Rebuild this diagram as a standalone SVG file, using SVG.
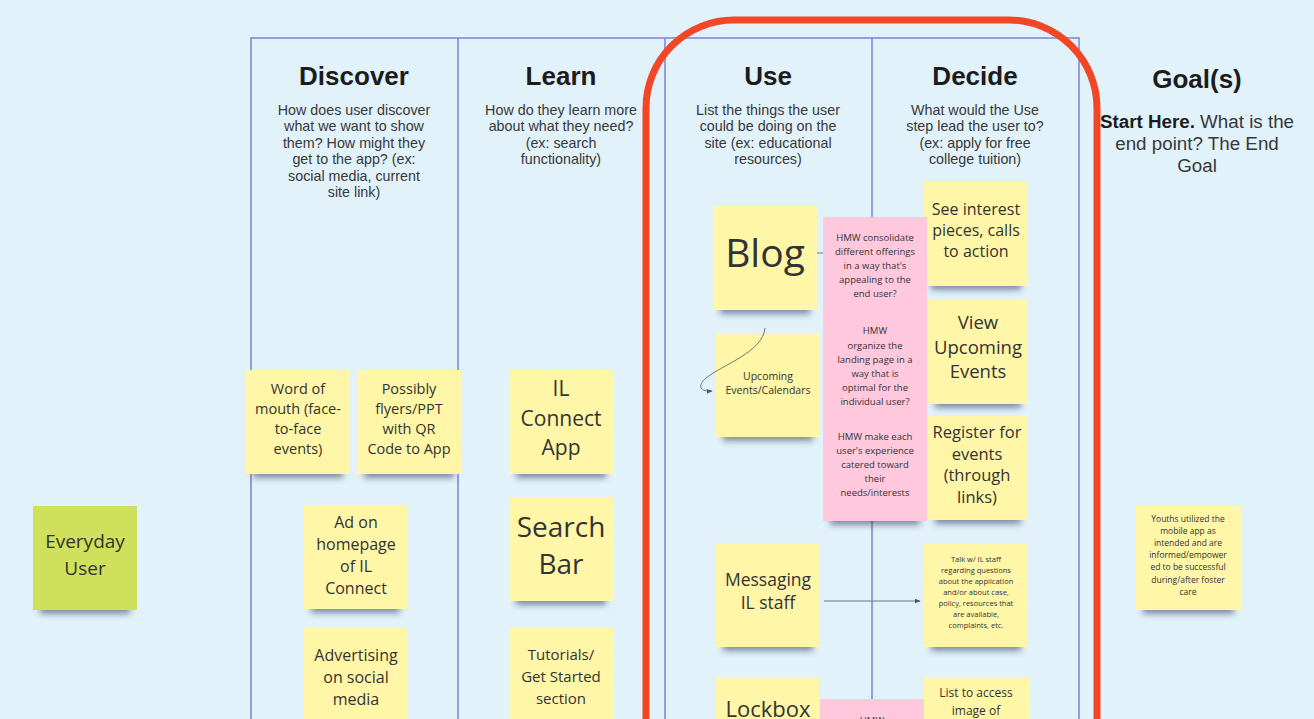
<svg xmlns="http://www.w3.org/2000/svg" width="1314" height="719" viewBox="0 0 1314 719">
<defs>
<style>
.bg{fill:#e1f2fb}
.frame{fill:none;stroke:#7b82d2;stroke-width:1.5}
.hd{font-family:"Liberation Sans",Arial,sans-serif;font-weight:bold;font-size:26px;fill:#1c1c1c;text-anchor:middle}
.sub{font-family:"Liberation Sans",Arial,sans-serif;font-size:14.3px;fill:#383838;text-anchor:middle}
.gsub{font-family:"Liberation Sans",Arial,sans-serif;font-size:18.8px;fill:#383838;text-anchor:middle}
.y{fill:#fff6a8}
.p{fill:#ffc8dc}
.g{fill:#cee05c}
.sh{fill:#2c3a55;opacity:0.55;filter:url(#blur)}
.t{font-family:"Open Sans","Noto Sans",sans-serif;fill:#333;text-anchor:middle}
.red{fill:none;stroke:#f24726;stroke-width:7}
.con{fill:none;stroke:#6f7680;stroke-width:1}
</style>
<filter id="blur" x="-20%" y="-100%" width="140%" height="300%"><feGaussianBlur stdDeviation="3"/></filter>
<marker id="arr" viewBox="0 0 10 10" refX="9" refY="5" markerWidth="6" markerHeight="6" orient="auto"><path d="M0,1 L10,5 L0,9 z" fill="#555"/></marker>
</defs>
<rect class="bg" x="0" y="0" width="1314" height="719"/>

<g id="frame">
<path class="frame" d="M251,719 L251,38 L1079,38 L1079,719 M458,38 L458,719 M665,38 L665,719 M872,38 L872,719"/>
</g>

<g id="headers">
<text class="hd" x="354" y="85">Discover</text>
<text class="sub"><tspan x="354" y="115">How does user discover</tspan><tspan x="354" y="131">what we want to show</tspan><tspan x="354" y="148">them? How might they</tspan><tspan x="354" y="164">get to the app? (ex:</tspan><tspan x="354" y="181">social media, current</tspan><tspan x="354" y="197">site link)</tspan></text>
<text class="hd" x="561" y="85">Learn</text>
<text class="sub"><tspan x="561" y="115">How do they learn more</tspan><tspan x="561" y="131">about what they need?</tspan><tspan x="561" y="148">(ex: search</tspan><tspan x="561" y="164">functionality)</tspan></text>
<text class="hd" x="768" y="85">Use</text>
<text class="sub"><tspan x="768" y="115">List the things the user</tspan><tspan x="768" y="131">could be doing on the</tspan><tspan x="768" y="148">site (ex: educational</tspan><tspan x="768" y="164">resources)</tspan></text>
<text class="hd" x="975" y="85">Decide</text>
<text class="sub"><tspan x="975" y="115">What would the Use</tspan><tspan x="975" y="131">step lead the user to?</tspan><tspan x="975" y="148">(ex: apply for free</tspan><tspan x="975" y="164">college tuition)</tspan></text>
<text class="hd" x="1197" y="88">Goal(s)</text>
<text class="gsub"><tspan x="1197" y="128"><tspan font-weight="bold" fill="#1c1c1c">Start Here.</tspan> What is the</tspan><tspan x="1197" y="150">end point? The End</tspan><tspan x="1197" y="172">Goal</tspan></text>
</g>

<g id="n-everyday"><rect class="sh" x="40" y="598" width="90" height="16"/><rect class="g" x="33" y="506" width="104" height="104"/>
<text class="t" font-size="19"><tspan x="85" y="548">Everyday</tspan><tspan x="85" y="575">User</tspan></text></g>

<g id="n-word"><rect class="sh" x="253" y="462" width="90" height="16"/><rect class="y" x="246" y="370" width="104" height="104"/>
<text class="t" font-size="14.5"><tspan x="298" y="394">Word of</tspan><tspan x="298" y="414">mouth (face-</tspan><tspan x="298" y="434">to-face</tspan><tspan x="298" y="454">events)</tspan></text></g>

<g id="n-flyers"><rect class="sh" x="364" y="462" width="90" height="16"/><rect class="y" x="357" y="370" width="104" height="104"/>
<text class="t" font-size="14.5"><tspan x="409" y="394">Possibly</tspan><tspan x="409" y="414">flyers/PPT</tspan><tspan x="409" y="434">with QR</tspan><tspan x="409" y="454">Code to App</tspan></text></g>

<g id="n-ad"><rect class="sh" x="311" y="597" width="89" height="16"/><rect class="y" x="304" y="505" width="103" height="104"/>
<text class="t" font-size="16"><tspan x="356" y="528">Ad on</tspan><tspan x="356" y="550">homepage</tspan><tspan x="356" y="572">of IL</tspan><tspan x="356" y="594">Connect</tspan></text></g>

<g id="n-advertising"><rect class="y" x="304" y="628" width="103" height="110"/>
<text class="t" font-size="16"><tspan x="356" y="661">Advertising</tspan><tspan x="356" y="683">on social</tspan><tspan x="356" y="705">media</tspan></text></g>

<g id="n-ilapp"><rect class="sh" x="516" y="462" width="90" height="16"/><rect class="y" x="509" y="370" width="104" height="104"/>
<text class="t" font-size="21"><tspan x="561" y="396">IL</tspan><tspan x="561" y="426">Connect</tspan><tspan x="561" y="455">App</tspan></text></g>

<g id="n-search"><rect class="sh" x="516" y="589" width="90" height="16"/><rect class="y" x="509" y="497" width="104" height="104"/>
<text class="t" font-size="28"><tspan x="561" y="537">Search</tspan><tspan x="561" y="574">Bar</tspan></text></g>

<g id="n-tutorials"><rect class="y" x="509" y="628" width="104" height="110"/>
<text class="t" font-size="15"><tspan x="561" y="660">Tutorials/</tspan><tspan x="561" y="682">Get Started</tspan><tspan x="561" y="704">section</tspan></text></g>

<g id="n-blog"><rect class="sh" x="720" y="298" width="90" height="16"/><rect class="y" x="713" y="206" width="104" height="104"/>
<text class="t" font-size="39" fill="#222"><tspan x="765" y="267">Blog</tspan></text></g>

<g id="n-upcoming"><rect class="sh" x="723" y="425" width="90" height="16"/><rect class="y" x="716" y="333" width="104" height="104"/>
<text class="t" font-size="10.5"><tspan x="768" y="380">Upcoming</tspan><tspan x="768" y="394">Events/Calendars</tspan></text></g>

<g id="n-messaging"><rect class="sh" x="723" y="635" width="90" height="16"/><rect class="y" x="716" y="543" width="104" height="104"/>
<text class="t" font-size="17.5"><tspan x="768" y="586">Messaging</tspan><tspan x="768" y="609">IL staff</tspan></text></g>

<g id="n-lockbox"><rect class="y" x="716" y="677" width="103" height="60"/>
<text class="t" font-size="22"><tspan x="768" y="717">Lockbox</tspan></text></g>

<g id="n-see"><rect class="sh" x="931" y="274" width="90" height="16"/><rect class="y" x="924" y="182" width="104" height="104"/>
<text class="t" font-size="16"><tspan x="976" y="215">See interest</tspan><tspan x="976" y="236">pieces, calls</tspan><tspan x="976" y="257">to action</tspan></text></g>

<g id="n-view"><rect class="sh" x="935" y="392" width="86" height="16"/><rect class="y" x="928" y="300" width="100" height="104"/>
<text class="t" font-size="18.5"><tspan x="978" y="329">View</tspan><tspan x="978" y="354">Upcoming</tspan><tspan x="978" y="378">Events</tspan></text></g>

<g id="n-register"><rect class="sh" x="935" y="508" width="86" height="16"/><rect class="y" x="928" y="416" width="100" height="104"/>
<text class="t" font-size="16.5"><tspan x="977" y="438">Register for</tspan><tspan x="977" y="460">events</tspan><tspan x="977" y="481">(through</tspan><tspan x="977" y="503">links)</tspan></text></g>

<g id="n-pink1"><rect class="p" x="823" y="217" width="104" height="101"/>
<text class="t" font-size="9.5"><tspan x="875" y="241">HMW consolidate</tspan><tspan x="875" y="255">different offerings</tspan><tspan x="875" y="269">in a way that's</tspan><tspan x="875" y="283">appealing to the</tspan><tspan x="875" y="297">end user?</tspan></text></g>

<g id="n-pink2"><rect class="p" x="823" y="318" width="104" height="98"/>
<text class="t" font-size="9.5"><tspan x="875" y="334">HMW</tspan><tspan x="875" y="349">organize the</tspan><tspan x="875" y="363">landing page in a</tspan><tspan x="875" y="377">way that is</tspan><tspan x="875" y="391">optimal for the</tspan><tspan x="875" y="405">individual user?</tspan></text></g>

<g id="n-pink3"><rect class="sh" x="830" y="509" width="90" height="16"/><rect class="p" x="823" y="416" width="104" height="105"/>
<text class="t" font-size="9.5"><tspan x="875" y="440">HMW make each</tspan><tspan x="875" y="454">user's experience</tspan><tspan x="875" y="468">catered toward</tspan><tspan x="875" y="482">their</tspan><tspan x="875" y="496">needs/interests</tspan></text></g>

<g id="n-pink4"><rect class="p" x="820" y="699" width="104" height="40"/>
<text class="t" font-size="9.5"><tspan x="872" y="724">HMW</tspan></text></g>

<g id="n-talk"><rect class="sh" x="931" y="635" width="90" height="16"/><rect class="y" x="924" y="543" width="104" height="104"/>
<text class="t" font-size="7.5"><tspan x="976" y="562">Talk w/ IL staff</tspan><tspan x="976" y="573">regarding questions</tspan><tspan x="976" y="584">about the application</tspan><tspan x="976" y="595">and/or about case,</tspan><tspan x="976" y="606">policy, resources that</tspan><tspan x="976" y="617">are available,</tspan><tspan x="976" y="628">complaints, etc.</tspan></text></g>

<g id="n-list"><rect class="y" x="924" y="677" width="105" height="60"/>
<text class="t" font-size="12"><tspan x="976" y="697">List to access</tspan><tspan x="976" y="715">image of</tspan></text></g>

<g id="n-goal"><rect class="sh" x="1143" y="598" width="91" height="16"/><rect class="y" x="1136" y="506" width="105" height="104"/>
<text class="t" font-size="8.5"><tspan x="1188" y="522">Youths utilized the</tspan><tspan x="1188" y="534">mobile app as</tspan><tspan x="1188" y="546">intended and are</tspan><tspan x="1188" y="558">informed/empower</tspan><tspan x="1188" y="570">ed to be successful</tspan><tspan x="1188" y="583">during/after foster</tspan><tspan x="1188" y="595">care</tspan></text></g>

<g id="connectors">
<path class="con" d="M817,253 L823,253"/>
<path class="con" d="M765,328 C763,352 722,365 706,378 C697,386 700,392 712,391" marker-end="url(#arr)"/>
<path class="con" d="M824,601 L920,601" marker-end="url(#arr)"/>
</g>

<g id="highlight">
<path class="red" d="M646,740 L646,108 A88,88 0 0 1 734,20 L1009,20 A88,88 0 0 1 1097,108 L1097,740"/>
</g>
</svg>
